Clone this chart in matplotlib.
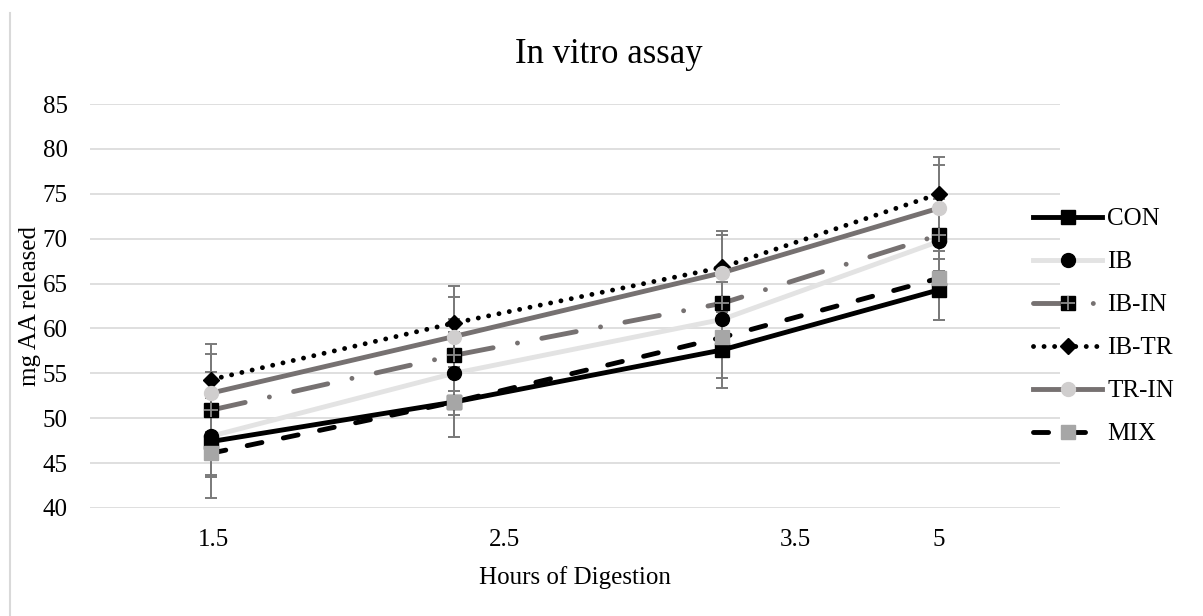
import numpy as np
import matplotlib
matplotlib.use('Agg')
import matplotlib.pyplot as plt
from matplotlib.lines import Line2D
from matplotlib.legend_handler import HandlerTuple

plt.rcParams['font.family'] = ['Liberation Serif', 'DejaVu Serif']

# hours of digestion (category labels) and series values, mg AA released
hours = ['1.5', '2.5', '3.5', '5']
con = [47.4, 51.8, 57.6, 64.3]
ib = [48.0, 55.0, 61.0, 69.7]
ib_in = [50.9, 57.0, 62.8, 70.4]
ib_tr = [54.3, 60.6, 66.8, 75.0]
tr_in = [52.8, 59.1, 66.2, 73.4]
mix = [46.1, 51.8, 59.0, 65.6]

# error bars
con_err = [3.9, 3.9, 4.2, 3.4]
ib_err = [4.3, 4.6, 4.2, 4.0]
ib_in_err = [4.2, 4.0, 4.0, 4.0]
ib_tr_err = [4.0, 4.1, 4.0, 4.1]
tr_in_err = [4.3, 4.4, 4.2, 4.8]
mix_err = [5.0, 3.9, 4.5, 4.7]

# layout of the category axis as it appears in the figure
point_pos = [0.0, 0.835, 1.756, 2.502]
label_pos = [0.01, 1.01, 2.007, 2.502]

fig = plt.figure(figsize=(12.03, 6.16), dpi=100)
ax = fig.add_axes([90 / 1203, 1 - 508 / 616, 970 / 1203, 404 / 616])

x = np.array(point_pos)
lw = 3.5
ms = 10
fs = 18

for vals, err in [(con, con_err), (ib, ib_err), (ib_in, ib_in_err),
                  (ib_tr, ib_tr_err), (tr_in, tr_in_err), (mix, mix_err)]:
    ax.errorbar(x, vals, yerr=err, fmt='none', ecolor='#7a7a7a',
                elinewidth=1.4, capsize=4.5, capthick=1.4, zorder=2)

h_con, = ax.plot(x, con, color='black', lw=lw, marker='s', ms=ms,
                 mfc='black', mec='black', zorder=3)
h_ib, = ax.plot(x, ib, color='#e3e3e3', lw=lw, marker='o', ms=ms,
                mfc='black', mec='black', zorder=3)
h_ibin, = ax.plot(x, ib_in, color='#767171', lw=lw, marker='s', ms=ms,
                  mfc='black', mec='black', zorder=3,
                  linestyle=(0, (7.2, 5.1, 0.01, 5.1)), dash_capstyle='round')
h_ibin2, = ax.plot(x, ib_in, linestyle='none', marker='+', ms=ms * 0.95,
                   mew=1.3, color='#8c8c8c', zorder=3.1)
h_ibtr, = ax.plot(x, ib_tr, color='black', lw=lw, marker='D', ms=ms * 0.8,
                  mfc='black', mec='black', zorder=3,
                  linestyle=(0, (0.01, 2.16)), dash_capstyle='round')
h_trin, = ax.plot(x, tr_in, color='#767171', lw=lw, marker='o', ms=ms,
                  mfc='#d0cece', mec='#d0cece', zorder=3)
h_mix, = ax.plot(x, mix, color='black', lw=lw, marker='s', ms=ms,
                 mfc='#a6a6a6', mec='#a6a6a6', zorder=3,
                 linestyle=(0, (3.1, 4.5)), dash_capstyle='round')

ax.set_xlim(-0.416, 2.918)
ax.set_ylim(40, 85)
ax.set_yticks(np.arange(40, 86, 5))
ax.set_xticks(label_pos)
ax.set_xticklabels(hours)
ax.tick_params(axis='both', length=0, labelsize=fs)
ax.tick_params(axis='y', pad=16)
ax.tick_params(axis='x', pad=15)
ax.grid(axis='y', color='#d9d9d9', lw=1.2)
ax.set_axisbelow(True)
for s in ax.spines.values():
    s.set_visible(False)

ax.set_xlabel('Hours of Digestion', fontsize=fs, labelpad=11)
ax.set_ylabel('mg AA released', fontsize=fs)
ax.yaxis.set_label_coords(-0.051, 0.5)

fig.text(609 / 1203, 1 - 63 / 616, 'In vitro assay', fontsize=25,
         ha='center', va='baseline')

ax.legend([h_con, h_ib, (h_ibin, h_ibin2), h_ibtr, h_trin, h_mix],
          ['CON', 'IB', 'IB-IN', 'IB-TR', 'TR-IN', 'MIX'],
          handler_map={tuple: HandlerTuple(ndivide=1)},
          loc='center left', bbox_to_anchor=(1033 / 1203, 1 - 326.5 / 616),
          bbox_transform=fig.transFigure, frameon=False, fontsize=fs,
          handlelength=2.76, handletextpad=0.2, labelspacing=0.82,
          borderpad=0, borderaxespad=0, numpoints=1)

# thin border at the left edge of the chart area
fig.add_artist(Line2D([10 / 1203, 10 / 1203], [0, 1 - 13 / 616],
                      transform=fig.transFigure, color='#d9d9d9', lw=1.5))

fig.savefig('out.png', dpi=100)
